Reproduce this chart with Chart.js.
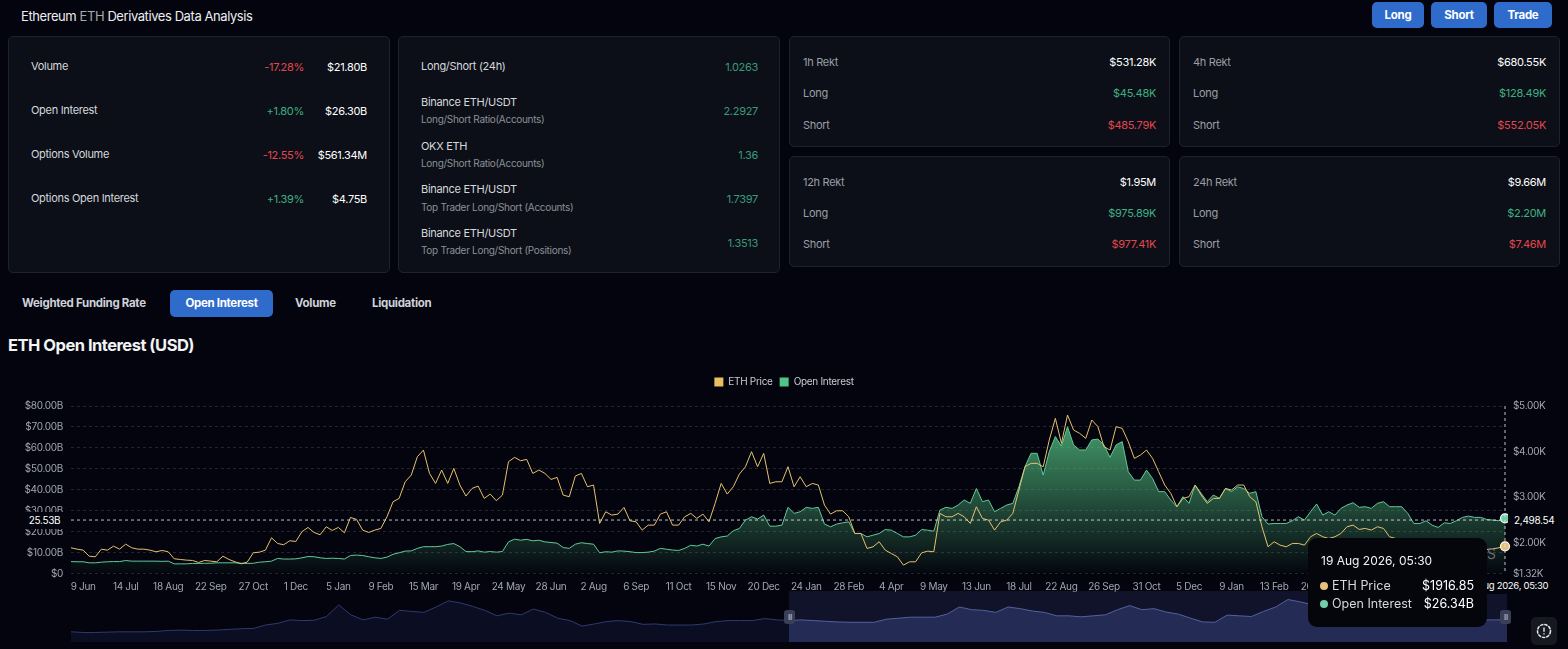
<!DOCTYPE html>
<html>
<head>
<meta charset="utf-8">
<title>ETH Open Interest</title>
<script src="https://cdn.jsdelivr.net/npm/chart.js@4/dist/chart.umd.min.js"></script>
<style>
  html, body { margin: 0; padding: 0; background: #03040d; width: 1568px; height: 649px; overflow: hidden; }
  body { position: relative; font-family: Inter, "Noto Sans", sans-serif; color: #d5d8dd; font-size: 11px; letter-spacing: -0.3px; }
  .t { position: absolute; white-space: nowrap; transform: translateY(-46%); line-height: 1; }
  .r { transform: translate(-100%, -46%); }
  .card { position: absolute; background: #0c0f17; border: 1px solid #1e2229; border-radius: 5px; box-sizing: border-box; }
  .btn { position: absolute; background: #2f6bcb; border-radius: 5px; color: #fff; font-weight: 700; font-size: 11.5px; text-align: center; }
  .g { color: #3fb083; } .gd { color: #3a9a7c; } .d { color: #e0474f; } .m { color: #8b8f98; font-size: 10px; } .l { color: #9a9ea6; }
  .tab { font-weight: 700; font-size: 11.5px; color: #cfd2d8; }
  canvas { position: absolute; display: block; }
  .hd { position: absolute; width: 11px; height: 14px; border-radius: 3px; background: #3a3f58; }
  .xl { position: absolute; background: #03040d; color: #fff; font-size: 10px; white-space: nowrap; text-align: center; }
</style>
</head>
<body>
<div class="t" style="left:21px;top:16px;font-size:13px;color:#eceef1;letter-spacing:-0.42px">Ethereum <span style="color:#a4a8af">ETH</span> Derivatives Data Analysis</div>
<div class="btn" style="left:1372px;top:2px;width:52px;height:26px;line-height:26px">Long</div>
<div class="btn" style="left:1431px;top:2px;width:56px;height:26px;line-height:26px">Short</div>
<div class="btn" style="left:1494px;top:2px;width:58px;height:26px;line-height:26px">Trade</div>

<div class="card" style="left:8px;top:36px;width:382px;height:237px"></div>
<div class="card" style="left:398px;top:36px;width:382px;height:237px"></div>
<div class="card" style="left:789px;top:36px;width:381px;height:111px"></div>
<div class="card" style="left:1179px;top:36px;width:381px;height:111px"></div>
<div class="card" style="left:789px;top:156px;width:381px;height:111px"></div>
<div class="card" style="left:1179px;top:156px;width:381px;height:111px"></div>

<div class="t" style="left:31px;top:66px">Volume</div><div class="t r d" style="left:304px;top:67px">-17.28%</div><div class="t r" style="left:367px;top:67px;color:#fff">$21.80B</div>
<div class="t" style="left:31px;top:110px">Open Interest</div><div class="t r g" style="left:304px;top:111px">+1.80%</div><div class="t r" style="left:367px;top:111px;color:#fff">$26.30B</div>
<div class="t" style="left:31px;top:154px">Options Volume</div><div class="t r d" style="left:304px;top:155px">-12.55%</div><div class="t r" style="left:367px;top:155px;color:#fff">$561.34M</div>
<div class="t" style="left:31px;top:198px">Options Open Interest</div><div class="t r g" style="left:304px;top:199px">+1.39%</div><div class="t r" style="left:367px;top:199px;color:#fff">$4.75B</div>

<div class="t" style="left:421px;top:66px">Long/Short (24h)</div><div class="t r gd" style="left:758px;top:67px">1.0263</div>
<div class="t" style="left:421px;top:102px">Binance ETH/USDT</div><div class="t m" style="left:421px;top:119px">Long/Short Ratio(Accounts)</div><div class="t r gd" style="left:758px;top:111px">2.2927</div>
<div class="t" style="left:421px;top:146px">OKX ETH</div><div class="t m" style="left:421px;top:163px">Long/Short Ratio(Accounts)</div><div class="t r gd" style="left:758px;top:155px">1.36</div>
<div class="t" style="left:421px;top:189px">Binance ETH/USDT</div><div class="t m" style="left:421px;top:207px">Top Trader Long/Short (Accounts)</div><div class="t r gd" style="left:758px;top:199px">1.7397</div>
<div class="t" style="left:421px;top:233px">Binance ETH/USDT</div><div class="t m" style="left:421px;top:250px">Top Trader Long/Short (Positions)</div><div class="t r gd" style="left:758px;top:243px">1.3513</div>

<div class="t l" style="left:803px;top:62px">1h Rekt</div><div class="t r" style="left:1156px;top:62px;color:#fff">$531.28K</div>
<div class="t l" style="left:803px;top:93px">Long</div><div class="t r g" style="left:1156px;top:93px">$45.48K</div>
<div class="t l" style="left:803px;top:125px">Short</div><div class="t r d" style="left:1156px;top:125px">$485.79K</div>
<div class="t l" style="left:1193px;top:62px">4h Rekt</div><div class="t r" style="left:1546px;top:62px;color:#fff">$680.55K</div>
<div class="t l" style="left:1193px;top:93px">Long</div><div class="t r g" style="left:1546px;top:93px">$128.49K</div>
<div class="t l" style="left:1193px;top:125px">Short</div><div class="t r d" style="left:1546px;top:125px">$552.05K</div>
<div class="t l" style="left:803px;top:182px">12h Rekt</div><div class="t r" style="left:1156px;top:182px;color:#fff">$1.95M</div>
<div class="t l" style="left:803px;top:213px">Long</div><div class="t r g" style="left:1156px;top:213px">$975.89K</div>
<div class="t l" style="left:803px;top:244px">Short</div><div class="t r d" style="left:1156px;top:244px">$977.41K</div>
<div class="t l" style="left:1193px;top:182px">24h Rekt</div><div class="t r" style="left:1546px;top:182px;color:#fff">$9.66M</div>
<div class="t l" style="left:1193px;top:213px">Long</div><div class="t r g" style="left:1546px;top:213px">$2.20M</div>
<div class="t l" style="left:1193px;top:244px">Short</div><div class="t r d" style="left:1546px;top:244px">$7.46M</div>

<div class="t tab" style="left:22px;top:303px">Weighted Funding Rate</div>
<div class="btn" style="left:170px;top:290px;width:103px;height:27px;line-height:27px">Open Interest</div>
<div class="t tab" style="left:295px;top:303px">Volume</div>
<div class="t tab" style="left:372px;top:303px">Liquidation</div>
<div class="t" style="left:8px;top:345px;font-size:16.5px;font-weight:700;color:#f2f3f5;letter-spacing:-0.5px">ETH Open Interest (USD)</div>

<canvas id="oiChart" width="1568" height="230" style="left:0;top:370px"></canvas>
<canvas id="navChart" width="1436" height="51" style="left:71px;top:591px"></canvas>

<!-- crosshair labels -->
<div class="xl" style="left:24px;top:512px;width:41px;height:17px;line-height:17px">25.53B</div>
<div class="xl" style="left:1508px;top:512px;width:48px;height:16px;line-height:16px;text-align:left;padding-left:6px;box-sizing:border-box">2,498.54</div>
<div class="xl" style="left:1465px;top:577px;width:84px;height:17px;line-height:17px;font-size:9.5px">19 Aug 2026, 05:30</div>

<!-- slider handles -->
<div class="hd" style="left:784px;top:610px"></div>
<div class="hd" style="left:1500px;top:610px"></div>
<div class="t" style="left:788px;top:617px;font-size:8px;color:#a0a4b8;font-weight:700">II</div>
<div class="t" style="left:1504px;top:617px;font-size:8px;color:#a0a4b8;font-weight:700">II</div>

<!-- watermark tail showing beside the tooltip -->
<div class="t" style="left:1487px;top:553px;font-size:14px;color:#6e7178">S</div>

<!-- tooltip -->
<div style="position:absolute;left:1308px;top:538px;width:179px;height:89px;background:#05060c;border-radius:9px"></div>
<div class="t" style="left:1321px;top:561px;font-size:12px;color:#f0f1f3;letter-spacing:0">19 Aug 2026, 05:30</div>
<div style="position:absolute;left:1320px;top:582px;width:8px;height:8px;border-radius:50%;background:#e8c27a"></div>
<div class="t" style="left:1332px;top:586px;font-size:12.5px;color:#d5d8dd;letter-spacing:0">ETH Price</div>
<div class="t r" style="left:1474px;top:586px;font-size:12.5px;color:#fff;letter-spacing:0">$1916.85</div>
<div style="position:absolute;left:1320px;top:600px;width:8px;height:8px;border-radius:50%;background:#6fd0a6"></div>
<div class="t" style="left:1332px;top:604px;font-size:12.5px;color:#d5d8dd;letter-spacing:0">Open Interest</div>
<div class="t r" style="left:1474px;top:604px;font-size:12.5px;color:#fff;letter-spacing:0">$26.34B</div>

<!-- chart settings button -->
<div style="position:absolute;left:1531px;top:617px;width:26px;height:28px;background:#161920;border-radius:5px">
  <svg width="26" height="28" viewBox="0 0 26 28"><circle cx="13" cy="14" r="6.5" fill="none" stroke="#e6e8ec" stroke-width="1.5" stroke-dasharray="3.5 0.8"/><path d="M13 10.5v4.2M13 16.3v1.3" stroke="#e6e8ec" stroke-width="1.4"/></svg>
</div>

<script>
// values, one sample every 5 days
var ethPrice = [
  1885,1855,1833,1700,1687,1855,1833,1921,1855,1965,1885,1855,1855,1833,1797,1826,1797,1643,1628,1614,
  1606,1562,1606,1592,1577,1700,1628,1577,1533,1570,1775,1789,1833,2105,1980,1951,2039,2024,2237,2332,
  2222,2171,2347,2266,2332,2215,2552,2508,2273,2222,2273,2310,2566,2896,2970,3336,3483,3886,4032,3519,
  3299,3593,3299,3629,3263,3021,3189,3241,2970,3065,2918,3043,3776,3871,3798,3827,3519,3593,3519,3387,
  3431,3043,3006,3461,3519,3226,3263,2420,2676,2603,2625,2772,2478,2456,2273,2383,2383,2625,2676,2383,
  2383,2566,2640,2530,2625,2456,2860,3299,3065,3226,3505,3666,3996,3666,3959,3299,3336,3336,3666,3226,
  3446,3226,3299,3263,2823,2625,2698,2698,2566,2200,2200,1870,1907,2017,1833,1760,1687,1504,1577,1577,
  1775,1811,1797,2640,2566,2566,2640,2566,2420,2786,2530,2493,2273,2456,2493,2640,3153,3666,3739,3739,
  3666,4252,4729,4179,4802,4472,4399,4289,4692,4546,4106,4032,4546,4509,4216,3849,3922,4032,3849,3556,
  3263,3080,2786,2970,3006,3263,3043,2860,2970,2970,3189,3153,3263,3263,3006,2896,2347,1907,2017,1943,
  1907,1980,1980,1943,2127,2200,2127,2090,2127,2200,2347,2383,2288,2310,2273,2347,2310,2127,2090,2053,
  2017,1980,1943,1907,1965,1995,1921,1892,1936,1980,1951,1892,1870,1848,1863,1885,1916.85
];
var openInterest = [
  5.7,5.6,5.6,5.1,5.1,5.4,5.6,5.7,5.7,6.2,5.9,5.9,5.9,5.9,5.9,5.8,5.9,4.6,4.6,4.6,
  4.8,4.8,4.9,4.9,5.1,5.1,5.1,5.1,4.9,4.8,4.9,5.4,5.6,5.9,7.2,6.9,6.9,7.0,7.5,8.1,
  8.0,7.5,7.2,7.3,7.2,6.9,8.6,8.8,8.6,8.0,7.5,7.2,7.8,9.2,9.9,10.7,10.8,12.0,12.8,12.8,
  12.8,13.1,13.9,14.3,12.8,10.5,10.4,10.8,10.2,10.5,10.2,10.5,15.1,16.4,15.9,16.3,15.6,15.9,15.1,14.8,
  14.5,12.4,12.0,14.0,14.7,14.3,14.0,9.9,10.4,10.2,10.8,10.7,10.4,10.0,10.0,10.2,10.7,12.0,11.6,11.2,
  11.0,12.0,13.5,13.1,14.0,13.1,16.7,17.5,17.9,20.4,21.5,25.5,27.1,26.0,27.9,22.6,22.6,23.1,31.6,28.7,
  29.5,31.6,31.1,31.6,23.6,22.3,23.6,24.2,24.7,19.1,19.1,17.5,18.3,19.1,21.0,20.7,19.1,17.5,17.5,18.3,
  21.0,20.7,20.2,30.3,31.6,31.1,32.7,35.1,33.5,40.6,34.3,35.1,29.5,31.1,32.7,33.5,41.4,51.0,57.4,57.4,
  47.0,58.2,65.4,60.9,70.1,61.4,59.0,59.0,63.8,64.2,61.4,55.5,61.4,63.0,48.6,44.6,44.6,49.4,45.4,39.1,
  39.1,35.1,31.9,36.7,33.5,42.2,38.3,34.3,37.5,35.9,40.6,39.1,41.4,40.6,38.3,39.1,27.1,23.6,23.9,23.9,
  23.9,25.2,27.1,25.5,29.5,33.2,27.9,29.5,27.9,31.1,32.7,33.8,31.6,31.9,31.1,33.5,34.3,31.9,31.9,31.9,
  28.7,23.9,23.9,25.2,23.1,22.0,24.2,23.9,25.2,26.8,27.4,26.8,26.8,25.8,25.5,25.2,26.34
];
// overview strip under the chart, one sample every 10 days
var overview = [
  30,28,28,29,30,30,30,31,34,35,34,34,35,37,39,40,50,55,65,63,64,75,109,80,65,73,67,93,90,87,103,121,115,105,93,77,85,
  80,97,87,70,63,47,53,60,63,60,52,53,50,50,50,53,60,63,63,63,69,65,63,65,63,61,59,58,58,58,67,70,73,73,73,82,103,95,93,87,103,98,91,
  87,77,77,74,77,80,95,107,95,98,88,82,70,59,58,79,77,75,90,103,125,118,
  110,105,100,95,90,90,85,80,80,75,75,70,70,70,65,65,65
];
var xTickLabels = ["9 Jun","14 Jul","18 Aug","22 Sep","27 Oct","1 Dec","5 Jan","9 Feb","15 Mar","19 Apr","24 May","28 Jun","2 Aug","6 Sep","11 Oct","15 Nov","20 Dec","24 Jan","28 Feb","4 Apr","9 May","13 Jun","18 Jul","22 Aug","26 Sep","31 Oct","5 Dec","9 Jan","13 Feb","20 Mar","24 Apr","29 May","3 Jul"];
var oiTicks = [0,10,20,30,40,50,60,70,80];
var priceTicks = [1320,2000,3000,4000,5000];
var crosshairOI = 25.53;

var lastIndex = ethPrice.length - 1;
var priceLine = "#e6c26e", oiLine = "#62c99c";

function money(v) { return v === 0 ? "$0" : "$" + v.toFixed(2) + "B"; }

var crosshair = {
  id: "crosshair",
  afterDatasetsDraw: function (chart) {
    var c = chart.ctx, a = chart.chartArea;
    var y = chart.scales.y.getPixelForValue(crosshairOI);
    c.save();
    c.strokeStyle = "rgba(225,228,232,0.85)";
    c.lineWidth = 1;
    c.setLineDash([3, 3]);
    c.beginPath();
    c.moveTo(a.left, y); c.lineTo(a.right, y);
    c.moveTo(a.right, a.top); c.lineTo(a.right, a.bottom);
    c.stroke();
    c.restore();
  }
};

// keeps the plot top clear of the legend
var legendGap = {
  id: "legendGap",
  beforeInit: function (chart) {
    var fit = chart.legend.fit;
    chart.legend.fit = function () {
      fit.call(this);
      this.height = 36;
    };
  }
};

new Chart(document.getElementById("oiChart").getContext("2d"), {
  type: "line",
  plugins: [crosshair, legendGap],
  data: {
    datasets: [
      {
        label: "ETH Price",
        data: ethPrice.map(function (v, i) { return { x: i * 5, y: v }; }),
        yAxisID: "y1",
        order: 1,
        borderColor: priceLine,
        borderWidth: 1,
        clip: false,
        pointRadius: function (c) { return c.dataIndex === lastIndex ? 4.5 : 0; },
        pointBackgroundColor: "#e8c27a",
        pointBorderColor: "#ffffff",
        pointBorderWidth: 1.2
      },
      {
        label: "Open Interest",
        data: openInterest.map(function (v, i) { return { x: i * 5, y: v }; }),
        yAxisID: "y",
        order: 2,
        borderColor: oiLine,
        borderWidth: 1,
        clip: false,
        fill: "origin",
        backgroundColor: function (c) {
          var a = c.chart.chartArea;
          if (!a) return "rgba(0,0,0,0)";
          var g = c.chart.ctx.createLinearGradient(0, a.top + 20, 0, a.bottom);
          g.addColorStop(0, "rgba(88,200,135,0.76)");
          g.addColorStop(1, "rgba(88,200,135,0.02)");
          return g;
        },
        pointRadius: function (c) { return c.dataIndex === lastIndex ? 4.5 : 0; },
        pointBackgroundColor: "#6fd0a6",
        pointBorderColor: "#ffffff",
        pointBorderWidth: 1.2
      }
    ]
  },
  options: {
    responsive: false,
    animation: false,
    layout: { padding: 0 },
    plugins: {
      tooltip: { enabled: false },
      legend: {
        position: "top",
        labels: {
          color: "#c9ccd2",
          font: { family: "Inter", size: 10 },
          boxWidth: 9,
          boxHeight: 9,
          padding: 7,
          generateLabels: function () {
            return [
              { text: "ETH Price", fillStyle: "#e8bf5f", strokeStyle: "#e8bf5f", lineWidth: 0, fontColor: "#c9ccd2" },
              { text: "Open Interest", fillStyle: "#4fc488", strokeStyle: "#4fc488", lineWidth: 0, fontColor: "#c9ccd2" }
            ];
          }
        }
      }
    },
    scales: {
      x: {
        type: "linear",
        min: 0,
        max: lastIndex * 5,
        grid: { display: false, drawTicks: false },
        border: { display: false },
        afterBuildTicks: function (axis) {
          axis.ticks = xTickLabels.map(function (_, i) { return { value: 10 + 35 * i }; });
        },
        afterFit: function (axis) { axis.height = 26.5; },
        ticks: {
          autoSkip: false,
          maxRotation: 0,
          padding: 7,
          color: "#a2a6ad",
          font: { family: "Inter", size: 10 },
          callback: function (v, i) { return xTickLabels[i]; }
        }
      },
      y: {
        position: "left",
        min: 0,
        max: 80,
        grid: { color: "rgba(255,255,255,0.13)", drawTicks: false, lineWidth: 1 },
        border: { display: false, dash: [3, 3] },
        afterBuildTicks: function (axis) { axis.ticks = oiTicks.map(function (v) { return { value: v }; }); },
        afterFit: function (axis) { axis.width = 71; },
        ticks: {
          padding: 8,
          color: "#a2a6ad",
          font: { family: "Inter", size: 10 },
          callback: function (v) { return money(v); }
        }
      },
      y1: {
        position: "right",
        min: 1320,
        max: 5000,
        grid: { display: false, drawTicks: false },
        border: { display: false },
        afterBuildTicks: function (axis) { axis.ticks = priceTicks.map(function (v) { return { value: v }; }); },
        afterFit: function (axis) { axis.width = 63; },
        ticks: {
          padding: 8,
          color: "#a2a6ad",
          font: { family: "Inter", size: 10 },
          callback: function (v) { return "$" + (v / 1000).toFixed(2) + "K"; }
        }
      }
    }
  }
});

// lighter band for the zoomed part of the strip
var selectedFrom = 59;
var selectedBand = {
  id: "selectedBand",
  beforeDatasetsDraw: function (chart) {
    var a = chart.chartArea, x0 = chart.scales.x.getPixelForValue(selectedFrom);
    chart.ctx.fillStyle = "rgba(44,52,104,0.32)";
    chart.ctx.fillRect(x0, a.top, a.right - x0, a.bottom - a.top);
  }
};

new Chart(document.getElementById("navChart").getContext("2d"), {
  type: "line",
  plugins: [selectedBand],
  data: {
    datasets: [{
      data: overview.map(function (v, i) { return { x: i, y: v }; }),
      borderWidth: 1,
      pointRadius: 0,
      fill: "origin",
      segment: {
        borderColor: function (c) { return c.p0.parsed.x >= selectedFrom ? "#55609f" : "#2f3a70"; },
        backgroundColor: function (c) { return c.p0.parsed.x >= selectedFrom ? "rgba(76,88,160,0.36)" : "rgba(40,50,110,0.22)"; }
      }
    }]
  },
  options: {
    responsive: false,
    animation: false,
    layout: { padding: 0 },
    plugins: { legend: { display: false }, tooltip: { enabled: false } },
    scales: {
      x: { type: "linear", display: false, min: 0, max: overview.length - 1 },
      y: { display: false, min: 0, max: 150 }
    }
  }
});
</script>
</body>
</html>
